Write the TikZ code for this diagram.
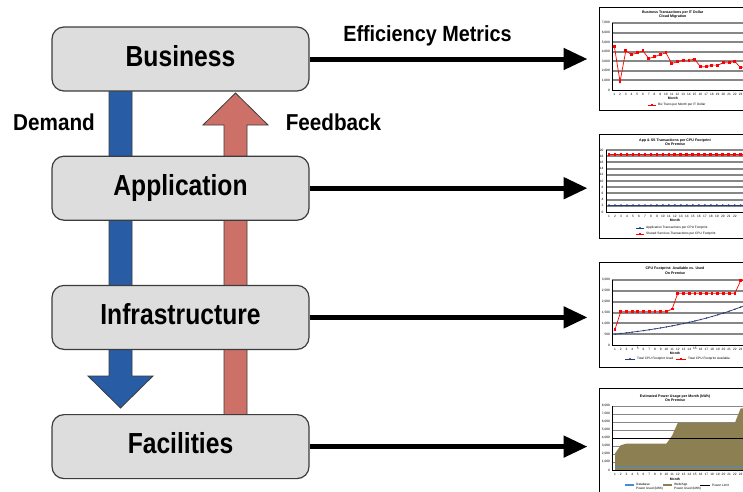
\documentclass[tikz,border=0pt]{standalone}
\usepackage{fontspec}
\setmainfont{Liberation Sans}
\newfontfamily\boxfont[FakeStretch=0.85]{Liberation Sans}
\newfontfamily\lblfont[FakeStretch=0.9]{Liberation Sans}
\usepackage{tikz}
\usetikzlibrary{positioning,arrows.meta,shapes.geometric}
\definecolor{boxgray}{RGB}{221,221,221}
\definecolor{edgegray}{RGB}{60,60,60}
\definecolor{demandblue}{RGB}{40,93,166}
\definecolor{feedred}{RGB}{205,113,104}
\definecolor{gridgray}{RGB}{135,135,135}
\definecolor{navy}{RGB}{40,60,120}
\definecolor{olive}{RGB}{140,128,82}
\definecolor{skyblue}{RGB}{70,140,210}

\begin{document}
\begin{tikzpicture}[x=1pt,y=-1pt,node distance=64pt,inner sep=0pt]
\tikzstyle{tier}=[rectangle, rounded corners=12pt, minimum width=257pt, minimum height=64pt, fill=boxgray, draw=edgegray, line width=1.2pt, font=\boxfont\bfseries\fontsize{29}{31}\selectfont, text height=14.5pt, text depth=0pt]
\tikzstyle{flow}=[draw=edgegray, line width=0.8pt]
\tikzstyle{metric}=[-{Triangle[length=24pt,width=21pt]}, line width=5pt, shorten >=11pt]
\tikzstyle{lbl}=[anchor=base, font=\lblfont\bfseries\fontsize{23}{25}\selectfont]
\tikzstyle{chartbox}=[rectangle, minimum width=162pt, fill=white, draw=black, line width=1pt]
\tikzstyle{gridln}=[gridgray, line width=2pt]
\tikzstyle{axisln}=[black, line width=0.5pt]
\tikzstyle{ticklbl}=[font=\fontsize{3.2}{3.8}\selectfont]
\tikzstyle{ctitle}=[align=center, font=\bfseries\fontsize{3.6}{4.4}\selectfont]
\tikzstyle{redline}=[red, line width=0.7pt]
\tikzstyle{blueline}=[navy, line width=0.7pt]
\tikzstyle{redmark}=[rectangle, fill=red, minimum size=2.8pt]
\tikzstyle{bluemark}=[diamond, fill=navy, minimum size=2.4pt]
\useasboundingbox (0,0) rectangle (743,491);
\clip (0,0) rectangle (743,491);
\fill[white] (0,0) rectangle (743,491);

% demand and feedback
\draw[flow, fill=demandblue] (109,70) -- (109,376) -- (88,376) -- (120.5,408) -- (153,376) -- (132,376) -- (132,70) -- cycle;
\draw[flow, fill=feedred] (224,440) -- (224,125) -- (203,125) -- (235.5,93) -- (268,125) -- (247,125) -- (247,440) -- cycle;

\node[tier] (biz) at (180.5,59) {Business};
\node[tier] (app) [below=of biz] {Application};
\node[tier] (infra) [below=of app] {Infrastructure};
\node[tier] (fac) [below=of infra] {Facilities};
\node[lbl] (dem) at (54,130) {Demand};
\node[lbl] (fb) at (333.5,130) {Feedback};
\node[lbl, font=\lblfont\bfseries\fontsize{22}{24}\selectfont] (eff) at (427.5,41) {Efficiency Metrics};

\node[chartbox, minimum height=103pt] (c1) at (680,58.5) {};
\node[chartbox, minimum height=104pt] (c2) at (680,186) {};
\node[chartbox, minimum height=105pt] (c3) at (680,314.5) {};
\node[chartbox, minimum height=108pt] (c4) at (680,442) {};

\draw[metric] (biz) -- (biz -| c1.west);
\draw[metric] (app) -- (app -| c2.west);
\draw[metric] (infra) -- (infra -| c3.west);
\draw[metric] (fac) -- (fac -| c4.west);

% chart 1
\node[ctitle] (t1) at (672.7,14.5) {Business Transactions per IT Dollar\\Cloud Migration};
\begin{scope}[shift={(608.56,90)}, x=5.74pt, y=9.57pt]
\foreach \k in {1,...,7} \draw[gridln] (0.6,\k) -- (28,\k);
\draw[axisln] (0.6,7) -- (0.6,0) -- (28,0);
\foreach \k/\v in {0/0,1/{1,000},2/{2,000},3/{3,000},4/{4,000},5/{5,000},6/{6,000},7/{7,000}}
  \node[ticklbl, anchor=east] (c1y\k) at (0.25,\k) {\v};
\foreach \m in {1,...,23} \node[ticklbl] (c1x\m) at (\m,-0.42) {\m};
\node[ticklbl, font=\bfseries\fontsize{3.4}{4}\selectfont] (c1m) at (11.2,-0.84) {Month};
\draw[redline] (1,4.57) \foreach \m/\v in {2/0.87,3/4.09,4/3.7,5/3.88,6/4.09,7/3.29,8/3.47,9/3.7,10/3.88,11/2.77,12/2.95,13/3.12,14/3.12,15/3.22,16/2.43,17/2.43,18/2.6,19/2.6,20/2.84,21/2.84,22/3.0,23/2.32,24/2.5} { -- (\m,\v) };
\foreach \m/\v in {1/4.57,2/0.87,3/4.09,4/3.7,5/3.88,6/4.09,7/3.29,8/3.47,9/3.7,10/3.88,11/2.77,12/2.95,13/3.12,14/3.12,15/3.22,16/2.43,17/2.43,18/2.6,19/2.6,20/2.84,21/2.84,22/3.0,23/2.32,24/2.5}
  \node[redmark] (c1p\m) at (\m,\v) {};
\end{scope}
\draw[redline] (648,105) -- (656,105);
\node[redmark] (c1km) at (652,105) {};
\node[ticklbl, anchor=west] (c1k) at (658,105) {Biz Trans per Month per IT Dollar};

% chart 2
\node[ctitle] (t2) at (675,142.5) {App \& SS Transactions per CPU Footprint\\On Premise};
\begin{scope}[shift={(603,212)}, x=5.99pt, y=3.1pt]
\foreach \k in {2,4,...,20} \draw[gridln] (0.5,\k) -- (28,\k);
\draw[axisln] (0.5,20) -- (0.5,0) -- (28,0);
\foreach \k in {0,2,...,20} \node[ticklbl, anchor=east] (c2y\k) at (0.1,\k) {\k};
\foreach \m in {1,...,22} \node[ticklbl] (c2x\m) at (\m,-1.3) {\m};
\node[ticklbl, font=\bfseries\fontsize{3.4}{4}\selectfont] (c2m) at (12,-2.6) {Month};
\draw[blueline] (1,2.2) -- (24,2.2);
\draw[redline] (1,18.6) -- (24,18.6);
\foreach \m in {1,...,24} {
  \node[bluemark] (c2b\m) at (\m,2.2) {};
  \node[redmark] (c2r\m) at (\m,18.6) {};
}
\end{scope}
\draw[blueline] (636,228) -- (644,228);
\node[bluemark] (c2km1) at (640,228) {};
\node[ticklbl, anchor=west] (c2k1) at (646,228) {Application Transactions per CPU Footprint};
\draw[redline] (636,234) -- (644,234);
\node[redmark] (c2km2) at (640,234) {};
\node[ticklbl, anchor=west] (c2k2) at (646,234) {Shared Services Transactions per CPU Footprint};

% chart 3
\node[ctitle] (t3) at (675,270.8) {CPU Footprint: Available vs. Used\\On Premise};
\begin{scope}[shift={(609.3,345)}, x=5.71pt, y=21.67pt]
\foreach \k in {0.5,1,...,3} \draw[gridln] (0.47,\k) -- (28,\k);
\draw[axisln] (0.47,3) -- (0.47,0) -- (28,0);
\foreach \k/\v in {0/0,0.5/500,1/{1,000},1.5/{1,500},2/{2,000},2.5/{2,500},3/{3,000}}
  \node[ticklbl, anchor=east] (c3y\k) at (0.15,\k) {\v};
\foreach \m in {1,...,23} \node[ticklbl] (c3x\m) at (\m,-0.18) {\m};
\node[ticklbl, font=\bfseries\fontsize{3.4}{4}\selectfont] (c3m) at (11.5,-0.37) {Month};
\draw[blueline] plot[domain=1:24, samples=24] (\x,{0.5*3.5^((\x-1)/22)});
\foreach \m in {1,...,24} \node[bluemark, minimum size=1.8pt] (c3b\m) at (\m,{0.5*3.5^((\m-1)/22)}) {};
\draw[redline] (1,0.72) -- (2,1.54) -- (10,1.54) -- (11,1.66) -- (12,2.39) -- (22,2.39) -- (23,2.97) -- (24,3.0);
\foreach \m/\v in {1/0.72,2/1.54,3/1.54,4/1.54,5/1.54,6/1.54,7/1.54,8/1.54,9/1.54,10/1.54,11/1.66,12/2.39,13/2.39,14/2.39,15/2.39,16/2.39,17/2.39,18/2.39,19/2.39,20/2.39,21/2.39,22/2.39,23/2.97,24/3.0}
  \node[redmark] (c3r\m) at (\m,\v) {};
\end{scope}
\draw[blueline] (625,359) -- (635,359);
\node[bluemark] (c3km1) at (630,359) {};
\node[ticklbl, anchor=west] (c3k1) at (637,359) {Total CPU Footprint Used};
\draw[redline] (676,359) -- (686,359);
\node[redmark] (c3km2) at (681,359) {};
\node[ticklbl, anchor=west] (c3k2) at (688,359) {Total CPU Footprint Available};

% chart 4
\node[ctitle] (t4) at (675,398.4) {Estimated Power Usage per Month (kWh)\\On Premise};
\begin{scope}[shift={(609.3,470)}, x=5.71pt, y=8pt]
\foreach \k in {1,...,8} \draw[gridgray, line width=0.8pt] (0.47,\k) -- (28,\k);
\fill[olive] (1,0) -- (1,2.08) -- (2,3.1) -- (3,3.3) -- (10,3.3) -- (11,4.3) -- (12,5.9) -- (22,5.9) -- (23,7.7) -- (28,7.7) -- (28,0) -- cycle;
\draw[skyblue, line width=1.2pt] (1,0.3) -- (28,0.3);
\draw[black, line width=0.9pt] (0.47,4) -- (28,4);
\draw[axisln] (0.47,8) -- (0.47,0) -- (28,0);
\foreach \k/\v in {0/0,1/{1,000},2/{2,000},3/{3,000},4/{4,000},5/{5,000},6/{6,000},7/{7,000},8/{8,000}}
  \node[ticklbl, anchor=east] (c4y\k) at (0.15,\k) {\v};
\foreach \m in {1,...,23} \node[ticklbl] (c4x\m) at (\m,-0.5) {\m};
\node[ticklbl, font=\bfseries\fontsize{3.4}{4}\selectfont] (c4m) at (11.5,-1.1) {Month};
\end{scope}
\fill[skyblue] (625,484) rectangle (634,486);
\node[ticklbl, anchor=north west, align=left] (c4k1) at (636,483) {Database\\Power Used (kWh)};
\fill[olive] (663,484) rectangle (672,486);
\node[ticklbl, anchor=north west, align=left] (c4k2) at (674,483) {Web/App\\Power Used (kWh)};
\draw[black, line width=0.9pt] (700,485) -- (710,485);
\node[ticklbl, anchor=west] (c4k3) at (712,485) {Power Limit};
\end{tikzpicture}
\end{document}
